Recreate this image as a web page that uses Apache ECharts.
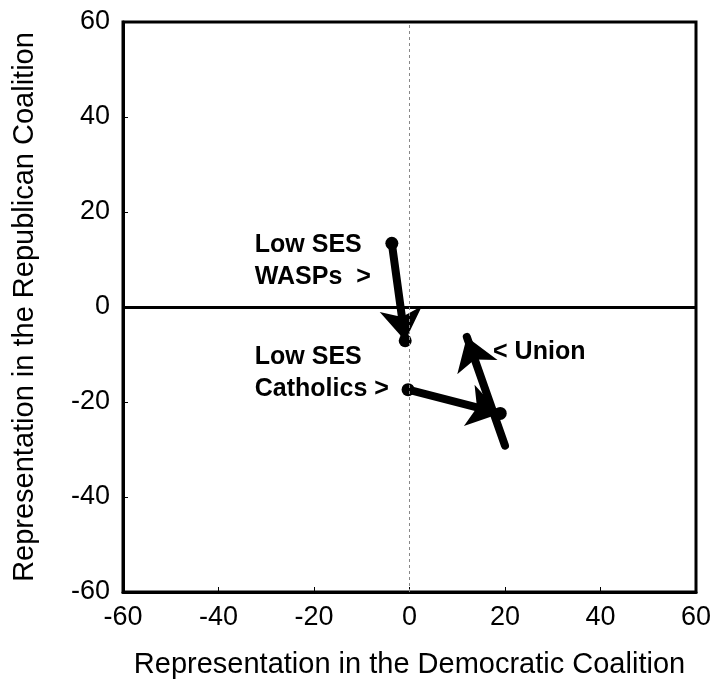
<!DOCTYPE html>
<html>
<head>
<meta charset="utf-8">
<script src="https://cdn.jsdelivr.net/npm/echarts@6/dist/echarts.min.js"></script>
<style>
  html, body { margin: 0; padding: 0; background: #fff; }
  #chart { width: 716px; height: 684px; }
</style>
</head>
<body>
<div id="chart"></div>
<script>
// 坐标轴刻度
const xTicks = [-60, -40, -20, 0, 20, 40, 60];
const yTicks = [-60, -40, -20, 0, 20, 40, 60];

// 三组箭头：起点 -> 终点
const waspsPath = [[-3.7, 13.4], [-0.9, -7.1]];
const catholicsPath = [[-0.3, -17.4], [19.0, -22.4]];
const unionPath = [[20.0, -29.2], [12.0, -6.3]];

// 圆点（WASPs 与 Catholics 的两端）
const dots = [waspsPath[0], waspsPath[1], catholicsPath[0], catholicsPath[1]];

// 文字标注
const labelNames = ['Low SES\nWASPs  >', 'Low SES\nCatholics >', '< Union'];
const labelPos = [[-32.4, 9.6], [-32.4, -13.9], [17.5, -9.4]];

const font = 'Liberation Sans, Arial, Helvetica, sans-serif';
const chart = echarts.init(document.getElementById('chart'));

chart.setOption({
  animation: false,
  backgroundColor: '#fff',
  grid: { left: 123, right: 20, top: 22, bottom: 90, show: true, borderColor: '#000', borderWidth: 3 },
  xAxis: {
    type: 'value', min: xTicks[0], max: xTicks[xTicks.length - 1], interval: 20,
    name: 'Representation in the Democratic Coalition', nameLocation: 'middle', nameGap: 58,
    nameTextStyle: { fontFamily: font, fontSize: 29, color: '#000' },
    axisLine: { show: true, onZero: false, lineStyle: { color: '#000', width: 3 } },
    axisTick: { show: true, inside: true, length: 5, lineStyle: { color: '#000' } },
    axisLabel: { fontFamily: font, fontSize: 27, color: '#000', margin: 12 },
    splitLine: { show: false }
  },
  yAxis: {
    type: 'value', min: yTicks[0], max: yTicks[yTicks.length - 1], interval: 20,
    name: 'Representation in the Republican Coalition', nameLocation: 'middle', nameGap: 84,
    nameTextStyle: { fontFamily: font, fontSize: 29, color: '#000' },
    axisLine: { show: true, onZero: false, lineStyle: { color: '#000', width: 3 } },
    axisTick: { show: true, inside: true, length: 5, lineStyle: { color: '#000' } },
    axisLabel: { fontFamily: font, fontSize: 27, color: '#000', margin: 13 },
    splitLine: { show: false }
  },
  series: [
    {
      // 零线
      type: 'line', data: [], silent: true,
      markLine: {
        symbol: 'none', silent: true, label: { show: false },
        data: [
          { yAxis: 0, lineStyle: { color: '#000', width: 3, type: 'solid' } },
          { xAxis: 0, lineStyle: { color: '#888', width: 1, type: [3, 3] } }
        ]
      }
    },
    {
      type: 'lines', coordinateSystem: 'cartesian2d',
      symbol: ['none', 'arrow'], symbolSize: 32,
      lineStyle: { color: '#000', width: 8, opacity: 1, cap: 'round' },
      data: [
        { coords: waspsPath },
        { coords: catholicsPath },
        { coords: unionPath }
      ]
    },
    {
      type: 'scatter', data: dots, symbolSize: 13,
      itemStyle: { color: '#000', opacity: 1 }
    },
    {
      type: 'scatter', symbolSize: 0,
      data: labelPos.map((p, i) => ({ value: p, name: labelNames[i] })),
      itemStyle: { opacity: 1 },
      label: {
        show: true, position: 'right', distance: 0, formatter: p => p.name,
        fontFamily: font, fontSize: 25, fontWeight: 'bold', color: '#000',
        lineHeight: 32, align: 'left'
      }
    }
  ]
});
</script>
</body>
</html>
